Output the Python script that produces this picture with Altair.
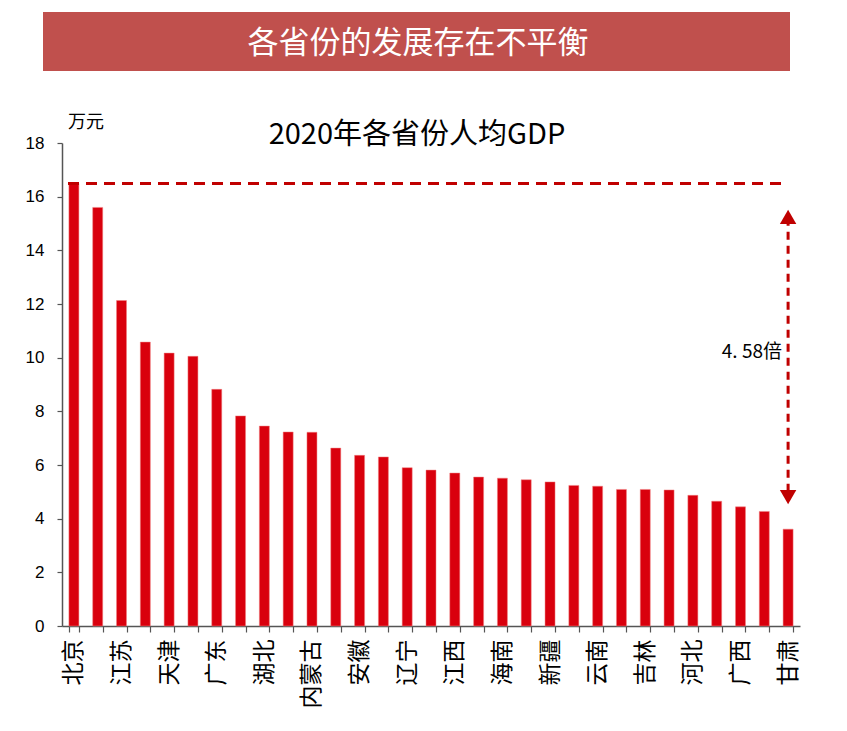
import altair as alt
import pandas as pd

provinces = ["北京", "上海", "江苏", "福建", "天津", "浙江", "广东", "重庆", "湖北", "山东",
             "内蒙古", "陕西", "安徽", "湖南", "辽宁", "四川", "江西", "河南", "海南", "宁夏",
             "新疆", "西藏", "云南", "山西", "吉林", "青海", "河北", "贵州", "广西", "黑龙江", "甘肃"]
gdp_per_capita = [16.49, 15.60, 12.13, 10.58, 10.17, 10.05, 8.82, 7.83, 7.45, 7.23,
                  7.22, 6.63, 6.36, 6.30, 5.90, 5.81, 5.70, 5.55, 5.51, 5.45,
                  5.37, 5.24, 5.21, 5.09, 5.09, 5.07, 4.87, 4.65, 4.44, 4.27, 3.61]
shown_labels = provinces[::2]
ratio_text = "4. 58倍"
arrow_low, arrow_high = 4.5, 15.55
ratio_y = 10.2

df = pd.DataFrame({"province": provinces, "gdp": gdp_per_capita})

RED = "#D9000D"
DARK_RED = "#C00000"
CJK = "Noto Sans CJK SC"
NUM = "Liberation Sans"

W, H = 738, 483

label_list = ",".join("'" + s + "'" for s in shown_labels)
label_expr = f"indexof([{label_list}], datum.value) >= 0 ? datum.value : ''"

x_enc = alt.X("province:N", sort=provinces,
              scale=alt.Scale(paddingInner=0.58, paddingOuter=0.29),
              axis=alt.Axis(title=None, labelExpr=label_expr, labelAngle=-90,
                            labelAlign="right", labelBaseline="middle",
                            labelOverlap=False, labelBound=False, labelFlush=False,
                            labelFont=CJK, labelFontSize=23, labelColor="#000000",
                            labelPadding=7,
                            tickBand="extent", tickSize=6, tickColor="#555555",
                            domainColor="#555555", domainWidth=1.5, tickWidth=1.2))
y_enc = alt.Y("gdp:Q", scale=alt.Scale(domain=[0, 18], nice=False),
              axis=alt.Axis(title=None, values=list(range(0, 19, 2)), grid=False,
                            labelFont=NUM, labelFontSize=17, labelColor="#000000",
                            tickSize=5, tickColor="#555555", domainColor="#555555",
                            domainWidth=1.5, tickWidth=1.2, labelPadding=13))

bars = alt.Chart(df).mark_bar(color=RED, stroke="#F08080", strokeWidth=0.5).encode(x=x_enc, y=y_enc)

top_df = pd.DataFrame({"v": [max(gdp_per_capita)]})
hline = alt.Chart(top_df).mark_rule(color=DARK_RED, strokeWidth=3, strokeDash=[11, 7]).encode(
    x=alt.value(6), x2=alt.value(720), y=alt.Y("v:Q"))

last = provinces[-1]
arrow_df = pd.DataFrame({"province": [last], "lo": [arrow_low + 0.5], "hi": [arrow_high - 0.5]})
vline = alt.Chart(arrow_df).mark_rule(color=DARK_RED, strokeWidth=3, strokeDash=[8, 6]).encode(
    x=alt.X("province:N", sort=provinces), y="lo:Q", y2="hi:Q")

heads_df = pd.DataFrame({"province": [last, last],
                         "v": [arrow_high - 0.3, arrow_low + 0.3],
                         "shape": ["triangle-up", "triangle-down"]})
heads = alt.Chart(heads_df).mark_point(filled=True, color=DARK_RED, size=270, opacity=1).encode(
    x=alt.X("province:N", sort=provinces), y="v:Q",
    shape=alt.Shape("shape:N", scale=None, legend=None))

ratio_df = pd.DataFrame({"t": [ratio_text], "v": [ratio_y]})
ratio = alt.Chart(ratio_df).mark_text(align="right", baseline="middle", font=CJK, fontSize=19,
                                      color="#000000").encode(
    x=alt.value(720), y="v:Q", text="t:N")

deco_df = pd.DataFrame({"t": ["x"]})
header_rect = alt.Chart(deco_df).mark_rect(color="#C0504D").encode(
    x=alt.value(-19), x2=alt.value(728), y=alt.value(-131), y2=alt.value(-72))
header_text = alt.Chart(pd.DataFrame({"t": ["各省份的发展存在不平衡"]})).mark_text(
    font=CJK, fontSize=31, color="#FFFFFF", align="center", baseline="middle").encode(
    x=alt.value(356), y=alt.value(-99), text="t:N")
title_text = alt.Chart(pd.DataFrame({"t": ["2020年各省份人均GDP"]})).mark_text(
    font=CJK, fontSize=29, color="#000000", align="center", baseline="middle").encode(
    x=alt.value(355), y=alt.value(-8), text="t:N")
unit_text = alt.Chart(pd.DataFrame({"t": ["万元"]})).mark_text(
    font=CJK, fontSize=18, color="#000000", align="left", baseline="middle").encode(
    x=alt.value(6), y=alt.value(-20), text="t:N")

chart = alt.layer(header_rect, header_text, title_text, unit_text, bars, hline, vline, heads, ratio).properties(
    width=W, height=H,
    autosize=alt.AutoSizeParams(type="none"),
    padding={"left": 54, "top": 135, "right": 30, "bottom": 100},
).configure(background="#FFFFFF").configure_view(strokeWidth=0)

chart.save("out.html", embed_options={"renderer": "svg", "actions": False})
